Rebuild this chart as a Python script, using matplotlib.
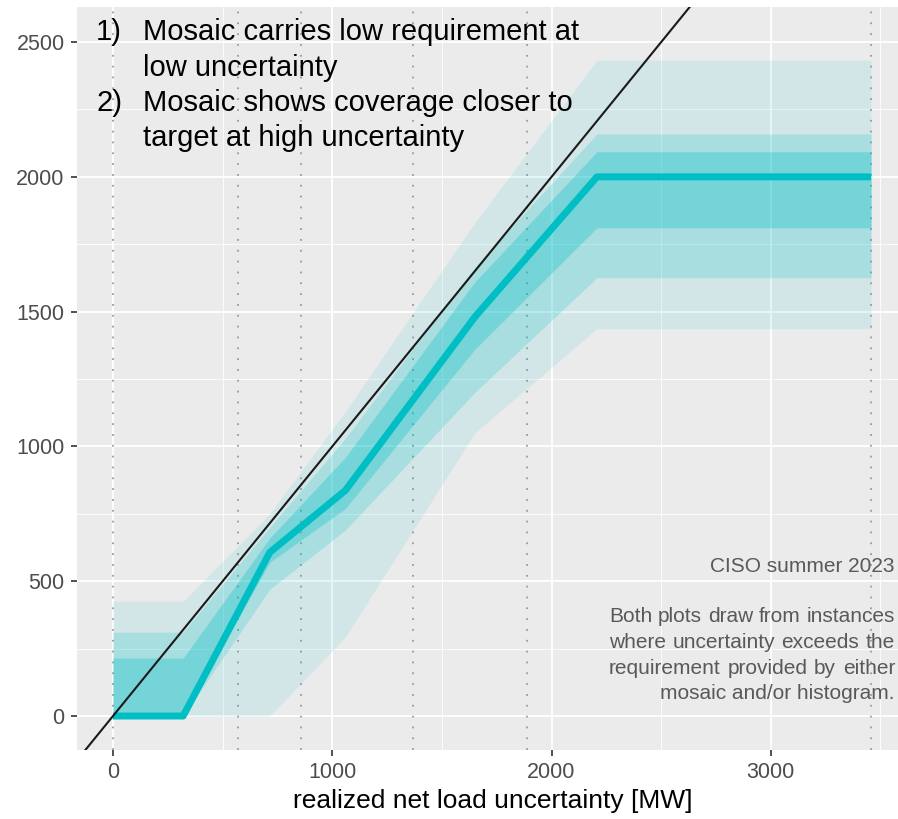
import numpy as np
import matplotlib
matplotlib.use("Agg")
import matplotlib.pyplot as plt

plt.rcParams['font.family'] = ['Liberation Sans', 'DejaVu Sans']

# realized uncertainty points (MW) and requirement quantiles (MW)
x_pts = [0, 320, 715, 1060, 1650, 2207, 3457]
median = [0, 0, 607, 837, 1480, 2000, 2000]
q25 = [0, 0, 570, 770, 1360, 1811, 1811]
q75 = [215, 215, 660, 960, 1610, 2093, 2093]
q10 = [0, 0, 470, 690, 1200, 1626, 1626]
q90 = [311, 311, 700, 1030, 1665, 2159, 2159]
q05 = [0, 0, 0, 293, 1050, 1437, 1437]
q95 = [426, 426, 750, 1130, 1830, 2433, 2433]

# bin edges shown as dotted lines
bin_edges = [0, 570, 857, 1366, 1888, 3457]

notes = ["Mosaic carries low requirement at", "low uncertainty",
         "Mosaic shows coverage closer to", "target at high uncertainty"]
note_nums = ["1)", "", "2)", ""]
caption = ["Both plots draw from instances", "where uncertainty exceeds the",
           "requirement provided by either", "mosaic and/or histogram."]

teal = '#00BFC4'
W, H = 898, 819
fig = plt.figure(figsize=(W / 100, H / 100), dpi=100)
ax = fig.add_axes([77 / W, 69 / H, 832 / W, 743 / H])
ax.set_facecolor('#EBEBEB')

ax.set_xlim(-164, 3630)
ax.set_ylim(-126, 2630)

# ggplot-like grid
ax.set_xticks([0, 1000, 2000, 3000])
ax.set_yticks([0, 500, 1000, 1500, 2000, 2500])
ax.set_xticks([500, 1500, 2500, 3500], minor=True)
ax.set_yticks([250, 750, 1250, 1750, 2250], minor=True)
ax.grid(which='major', color='white', linewidth=1.3, zorder=0)
ax.grid(which='minor', color='white', linewidth=0.6, zorder=0)
ax.set_axisbelow(True)
for s in ax.spines.values():
    s.set_visible(False)
ax.tick_params(which='minor', length=0)
ax.tick_params(which='major', length=4, width=1.2, color='#333333',
               labelsize=15.5, labelcolor='#4D4D4D', pad=5)

for xe in bin_edges:
    ax.axvline(xe, color='#9A9A9A', linewidth=1.3, linestyle=(0, (1, 5)), zorder=1)

ax.fill_between(x_pts, q05, q95, color=teal, alpha=0.10, linewidth=0, zorder=2)
ax.fill_between(x_pts, q10, q90, color=teal, alpha=0.20, linewidth=0, zorder=3)
ax.fill_between(x_pts, q25, q75, color=teal, alpha=0.30, linewidth=0, zorder=4)
ax.plot(x_pts, median, color=teal, linewidth=5, solid_capstyle='butt',
        solid_joinstyle='round', zorder=5)
ax.axline((0, 0), slope=1, color='#1A1A1A', linewidth=1.5, zorder=6)

ax.set_xlabel('realized net load uncertainty [MW]', fontsize=19, color='black',
              labelpad=4)

# numbered notes, top left
for i, (num, line) in enumerate(zip(note_nums, notes)):
    yy = 1 - (32 + 35.5 * i) / H
    if num:
        fig.text(96 / W, yy, num, fontsize=21, color='black', va='center', ha='left')
    fig.text(143 / W, yy, line, fontsize=21, color='black', va='center', ha='left')

fig.text(895 / W, 1 - 566 / H, 'CISO summer 2023', fontsize=15, color='#595959',
         va='center', ha='right')

# justified caption block (last line right aligned)
renderer = fig.canvas.get_renderer()
left_px, right_px = 609, 895
for i, line in enumerate(caption):
    yy = 1 - (617 + 25.5 * i) / H
    if i == len(caption) - 1:
        fig.text(right_px / W, yy, line, fontsize=15, color='#595959',
                 va='center', ha='right')
        continue
    words = line.split()
    widths = []
    for w in words:
        t = fig.text(0, 0, w, fontsize=15)
        widths.append(t.get_window_extent(renderer).width)
        t.remove()
    gap = (right_px - left_px - sum(widths)) / (len(words) - 1)
    xpos = left_px
    for w, wd in zip(words, widths):
        fig.text(xpos / W, yy, w, fontsize=15, color='#595959', va='center', ha='left')
        xpos += wd + gap

fig.savefig('out.png', dpi=100)
